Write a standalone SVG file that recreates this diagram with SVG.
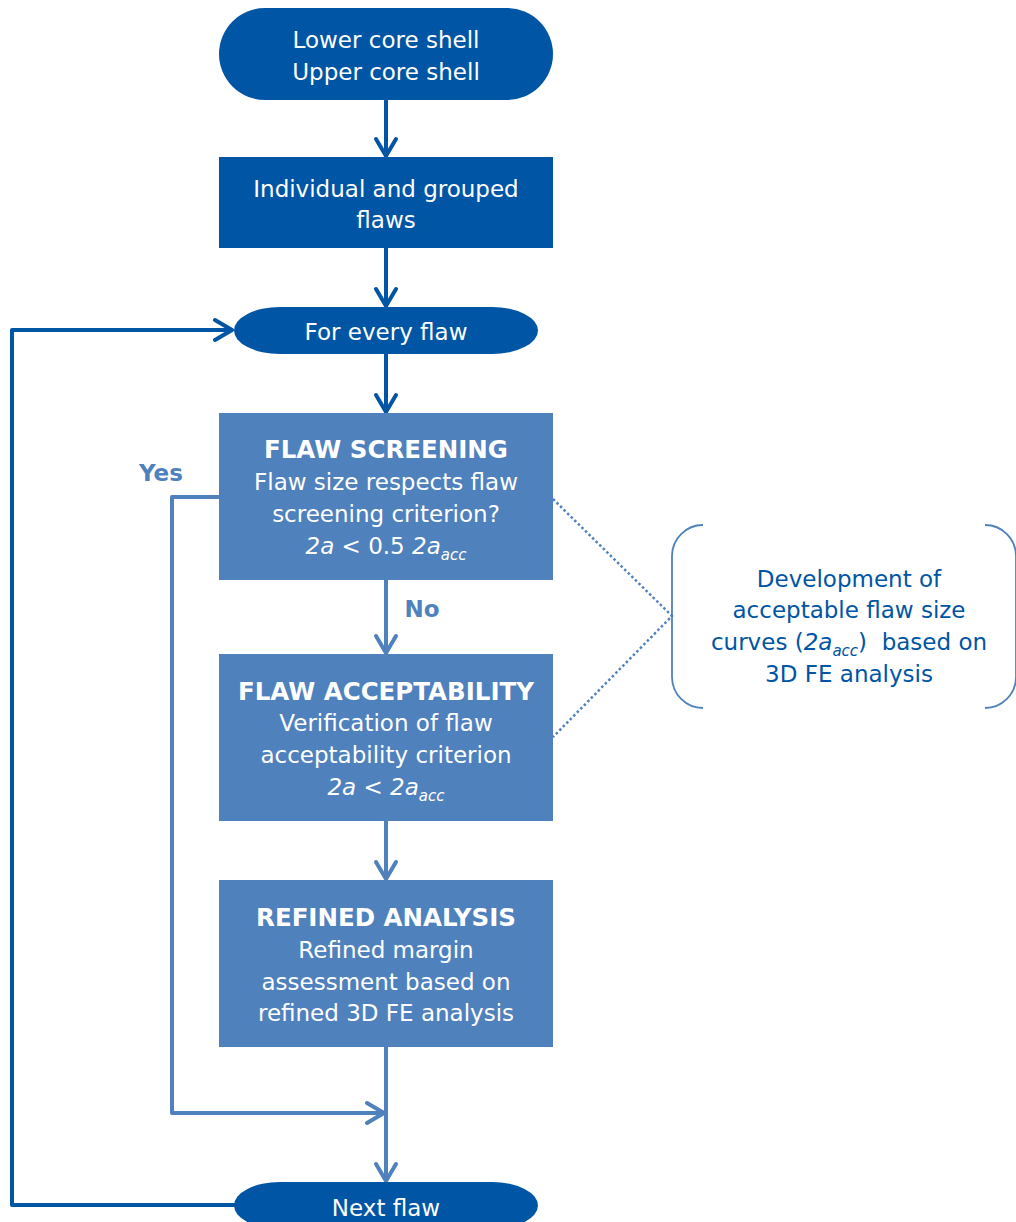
<svg xmlns="http://www.w3.org/2000/svg" width="1016" height="1222" viewBox="0 0 1016 1222">
<style>
.dark{fill:#0055A5}
.light{fill:#4F81BD}
text{font-family:"DejaVu Sans","Verdana",sans-serif;font-size:23px;text-anchor:middle}
.w{fill:#ffffff}
.b{font-weight:bold;font-size:24.5px}
.i{font-style:italic}
.sub{font-size:15px;font-style:italic}
.lbl{fill:#4F81BD;font-weight:bold}
.note{fill:#0055A5}
.cd{fill:none;stroke:#0055A5;stroke-width:4;stroke-linejoin:round;stroke-linecap:round}
.cl{fill:none;stroke:#4F81BD;stroke-width:4;stroke-linejoin:round;stroke-linecap:round}
.dot{fill:none;stroke:#4F81BD;stroke-width:2.5;stroke-dasharray:2.5 2.5}
.br{fill:none;stroke:#4F81BD;stroke-width:1.8}
</style>
<g id="connectors">
<path class="cd" d="M386 100 V155 M376 139 L386 156 L396 139"/>
<path class="cd" d="M386 248 V305 M376 289 L386 306 L396 289"/>
<path class="cd" d="M386 354 V411 M376 395 L386 412 L396 395"/>
<path class="cl" d="M386 580 V652 M376 636 L386 653 L396 636"/>
<path class="cl" d="M386 821 V878 M376 862 L386 879 L396 862"/>
<path class="cl" d="M386 1047 V1180 M376 1164 L386 1181 L396 1164"/>
<path class="cl" d="M219 497 H172 V1113 H384 M367 1103 L384 1113 L367 1123"/>
<path class="cd" d="M234 1205 H12 V330 H232 M215 320 L232 330 L215 340"/>
<path class="dot" d="M553 499 L672 616 L553 737"/>
</g>
<g id="n1"><rect class="dark" x="219" y="8" width="334" height="92" rx="46" ry="46"/>
<text class="w" x="386" y="48">Lower core shell</text><text class="w" x="386" y="80">Upper core shell</text></g>
<g id="n2"><rect class="dark" x="219" y="157" width="334" height="91"/>
<text class="w" x="386" y="197">Individual and grouped</text><text class="w" x="386" y="228">flaws</text></g>
<g id="n3"><rect class="dark" x="234" y="307" width="304" height="47" rx="46" ry="23.5"/>
<text class="w" x="386" y="340">For every flaw</text></g>
<g id="n4"><rect class="light" x="219" y="413" width="334" height="167"/>
<text class="w b" x="386" y="458">FLAW SCREENING</text>
<text class="w" x="386" y="490">Flaw size respects flaw</text>
<text class="w" x="386" y="522">screening criterion?</text>
<text class="w" x="386" y="554"><tspan class="i">2a</tspan> &lt; 0.5 <tspan class="i">2a</tspan><tspan class="sub" dy="6">acc</tspan></text></g>
<g id="n5"><rect class="light" x="219" y="654" width="334" height="167"/>
<text class="w b" x="386" y="700">FLAW ACCEPTABILITY</text>
<text class="w" x="386" y="731">Verification of flaw</text>
<text class="w" x="386" y="763">acceptability criterion</text>
<text class="w" x="386" y="795"><tspan class="i">2a</tspan> &lt; <tspan class="i">2a</tspan><tspan class="sub" dy="6">acc</tspan></text></g>
<g id="n6"><rect class="light" x="219" y="880" width="334" height="167"/>
<text class="w b" x="386" y="926">REFINED ANALYSIS</text>
<text class="w" x="386" y="958">Refined margin</text>
<text class="w" x="386" y="990">assessment based on</text>
<text class="w" x="386" y="1021">refined 3D FE analysis</text></g>
<g id="n7"><rect class="dark" x="234" y="1182" width="304" height="47" rx="46" ry="23.5"/>
<text class="w" x="386" y="1216">Next flaw</text></g>
<g id="labels">
<text class="lbl" x="161" y="481">Yes</text>
<text class="lbl" x="422" y="617">No</text>
</g>
<g id="note">
<path class="br" d="M703 525 A31 31 0 0 0 672 556 V677 A31 31 0 0 0 703 708"/>
<path class="br" d="M985 525 A31 31 0 0 1 1016 556 V677 A31 31 0 0 1 985 708"/>
<text class="note" x="849" y="587">Development of</text>
<text class="note" x="849" y="618">acceptable flaw size</text>
<text class="note" x="849" y="650">curves (<tspan class="i">2a</tspan><tspan class="sub" dy="6">acc</tspan><tspan dy="-6">)&#160; based on</tspan></text>
<text class="note" x="849" y="682">3D FE analysis</text>
</g>
</svg>
